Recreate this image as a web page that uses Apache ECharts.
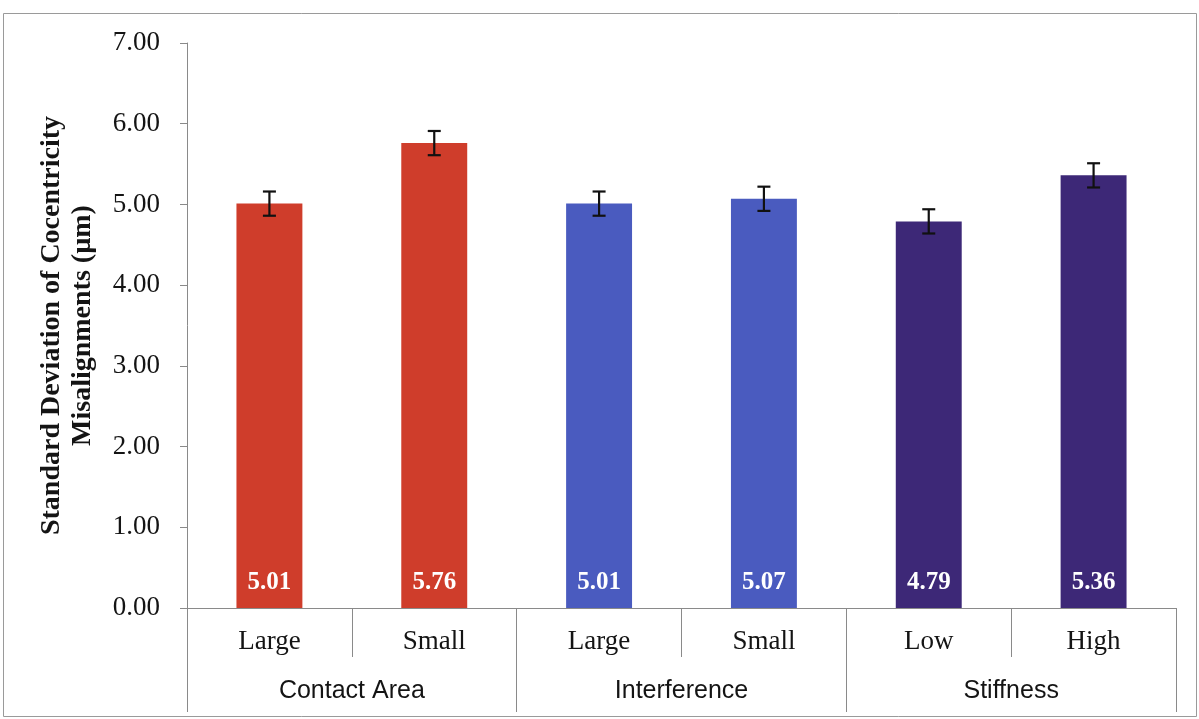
<!DOCTYPE html>
<html>
<head>
<meta charset="utf-8">
<script src="https://cdn.jsdelivr.net/npm/echarts@6/dist/echarts.min.js"></script>
<style>
  html, body { margin: 0; padding: 0; background: #ffffff; }
  #chart { width: 1199px; height: 719px; }
</style>
</head>
<body>
<div id="chart"></div>
<script>
// Sub-categories (one bar each) and the factor each belongs to
const levels = ['Large', 'Small', 'Large', 'Small', 'Low', 'High'];
const factors = ['Contact Area', 'Interference', 'Stiffness'];
const factorOfBar = [0, 0, 1, 1, 2, 2];

// Standard deviation of cocentricity misalignments (µm)
const stdDev = [5.01, 5.76, 5.01, 5.07, 4.79, 5.36];
// Error bar half-widths (µm)
const errHalf = [0.15, 0.15, 0.15, 0.15, 0.15, 0.15];

const yTicks = { min: 0, max: 7, interval: 1 };

const factorColors = ['#cf3d2b', '#4a5bbf', '#3d2877'];
const axisGray = '#8a8a8a';
const serif = '"Liberation Serif", "DejaVu Serif", serif';
const sans = '"Liberation Sans", Arial, sans-serif';

const chart = echarts.init(document.getElementById('chart'), null, { renderer: 'canvas' });

const barData = stdDev.map((v, i) => ({
  value: v,
  itemStyle: { color: factorColors[factorOfBar[i]] }
}));
const errData = stdDev.map((v, i) => [i, v - errHalf[i], v + errHalf[i]]);

chart.setOption({
  animation: false,
  backgroundColor: '#ffffff',
  grid: { left: 187, right: 23, top: 43, bottom: 111, containLabel: false },
  xAxis: [
    {
      type: 'category',
      data: levels,
      position: 'bottom',
      axisLine: { show: true, lineStyle: { color: axisGray, width: 1 } },
      axisTick: { show: true, length: 49, alignWithLabel: false, lineStyle: { color: axisGray } },
      axisLabel: { margin: 20, fontFamily: serif, fontSize: 27, color: '#141414', lineHeight: 27 }
    },
    {
      type: 'category',
      data: factors,
      position: 'bottom',
      axisLine: { show: false },
      axisTick: { show: true, length: 104, lineStyle: { color: axisGray } },
      axisLabel: { margin: 71, fontFamily: sans, fontSize: 25, color: '#141414', lineHeight: 25 }
    }
  ],
  yAxis: {
    type: 'value',
    min: yTicks.min,
    max: yTicks.max,
    interval: yTicks.interval,
    splitLine: { show: false },
    axisLine: { show: true, lineStyle: { color: axisGray, width: 1 } },
    axisTick: { show: true, length: 7, lineStyle: { color: axisGray } },
    axisLabel: {
      margin: 27,
      fontFamily: serif,
      fontSize: 27,
      color: '#141414',
      formatter: v => v.toFixed(2)
    },
    name: 'Standard Deviation of Cocentricity\nMisalignments (µm)',
    nameLocation: 'middle',
    nameRotate: 90,
    nameGap: 89,
    nameTextStyle: {
      fontFamily: serif,
      fontSize: 28,
      fontWeight: 'bold',
      color: '#141414',
      lineHeight: 31,
      align: 'center'
    }
  },
  series: [
    {
      type: 'bar',
      data: barData,
      barWidth: '40%',
      label: {
        show: true,
        position: 'insideBottom',
        distance: 13,
        color: '#ffffff',
        fontFamily: serif,
        fontWeight: 'bold',
        fontSize: 25,
        lineHeight: 25,
        formatter: p => p.value.toFixed(2)
      }
    },
    {
      type: 'custom',
      data: errData,
      z: 5,
      renderItem: (params, api) => {
        const i = api.value(0);
        const lo = api.coord([i, api.value(1)]);
        const hi = api.coord([i, api.value(2)]);
        const cap = 6.5;
        const style = { stroke: '#111111', lineWidth: 2.2 };
        return {
          type: 'group',
          children: [
            { type: 'line', shape: { x1: lo[0], y1: lo[1], x2: hi[0], y2: hi[1] }, style },
            { type: 'line', shape: { x1: hi[0] - cap, y1: hi[1], x2: hi[0] + cap, y2: hi[1] }, style },
            { type: 'line', shape: { x1: lo[0] - cap, y1: lo[1], x2: lo[0] + cap, y2: lo[1] }, style }
          ]
        };
      }
    }
  ],
  graphic: [
    {
      type: 'rect',
      silent: true,
      shape: { x: 3.5, y: 13.5, width: 1193, height: 703 },
      style: { fill: 'none', stroke: '#9a9a9a', lineWidth: 1 }
    }
  ]
});
</script>
</body>
</html>
